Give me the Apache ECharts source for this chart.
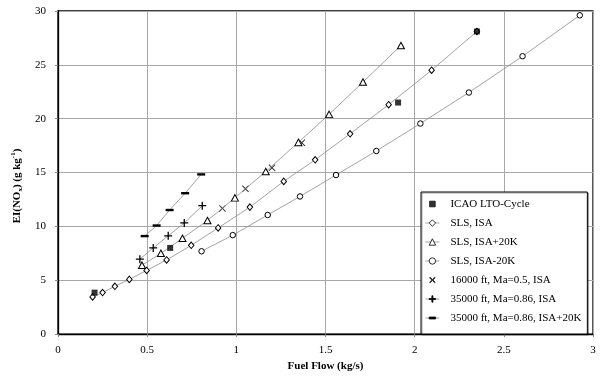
<!DOCTYPE html>
<html>
<head>
<meta charset="utf-8">
<script src="https://cdn.jsdelivr.net/npm/echarts@6/dist/echarts.min.js"></script>
<style>html,body{margin:0;padding:0;background:#fff}#c{width:600px;height:377px}</style>
</head>
<body>
<div id="c"></div>
<script>
// ---- data ----
const seriesNames = ['ICAO LTO-Cycle','SLS, ISA','SLS, ISA+20K','SLS, ISA-20K','16000 ft, Ma=0.5, ISA','35000 ft, Ma=0.86, ISA','35000 ft, Ma=0.86, ISA+20K'];
const icaoFuel = [0.205, 0.629, 1.907, 2.349];
const icaoEI   = [3.85, 8.0, 21.5, 28.1];
const slsIsaFuel = [0.194, 0.25, 0.319, 0.40, 0.497, 0.609, 0.747, 0.898, 1.076, 1.266, 1.442, 1.638, 1.854, 2.095, 2.349];
const slsIsaEI   = [3.45, 3.86, 4.44, 5.08, 5.91, 6.89, 8.24, 9.86, 11.79, 14.18, 16.18, 18.6, 21.3, 24.5, 28.1];
const slsHotFuel = [0.471, 0.577, 0.698, 0.838, 0.992, 1.165, 1.348, 1.52, 1.71, 1.923];
const slsHotEI   = [6.4, 7.5, 8.9, 10.55, 12.65, 15.1, 17.8, 20.4, 23.4, 26.8];
const slsColdFuel = [0.805, 0.98, 1.176, 1.357, 1.559, 1.785, 2.032, 2.304, 2.605, 2.926];
const slsColdEI   = [7.69, 9.19, 11.06, 12.78, 14.77, 17.0, 19.55, 22.43, 25.8, 29.6];
const alt16Fuel = [0.922, 1.051, 1.2, 1.367];
const alt16EI   = [11.67, 13.5, 15.44, 17.77];
const alt35Fuel = [0.459, 0.534, 0.618, 0.708, 0.809];
const alt35EI   = [6.96, 8.0, 9.13, 10.32, 11.92];
const alt35HotFuel = [0.486, 0.553, 0.626, 0.713, 0.803];
const alt35HotEI   = [9.1, 10.08, 11.52, 13.08, 14.83];
const xTicks = [0, 0.5, 1, 1.5, 2, 2.5, 3];
const yTicks = [0, 5, 10, 15, 20, 25, 30];

function pts(xs, ys){ return xs.map((x,i)=>[x, ys[i]]); }

const FONT = '"Liberation Serif","Times New Roman",serif';
const lineStyle = {color:'#8c8c8c', width:0.8};
const hollow = {color:'#fff', borderColor:'#000', borderWidth:1};
const solid = {color:'#000', borderWidth:0};
// invisible moveTo points pad the bounding box so legend icons stay small
const SQ_PATH = 'path://M-2,-2 M0,0 H10 V10 H0 Z M12,12';
const X_PATH = 'path://M-2,-2 M1,0 L5,4 L9,0 L10,1 L6,5 L10,9 L9,10 L5,6 L1,10 L0,9 L4,5 L0,1 Z M12,12';
const PLUS_PATH = 'path://M4.2,0 H5.8 V4.2 H10 V5.8 H5.8 V10 H4.2 V5.8 H0 V4.2 H4.2 Z';
const MINUS_PATH = 'path://M0,-3.5 M0,0 H10 V3 H0 Z M10,6.5';

const chart = echarts.init(document.getElementById('c'), null, {renderer:'canvas'});
chart.setOption({
  animation:false,
  backgroundColor:'#fff',
  textStyle:{fontFamily:FONT},
  grid:{left:58, right:7, top:11, bottom:39, show:true, borderColor:'#000', borderWidth:1.3},
  xAxis:{type:'value', min:0, max:3, interval:0.5,
    name:'Fuel Flow (kg/s)', nameLocation:'middle', nameGap:26,
    nameTextStyle:{fontFamily:FONT, fontWeight:'bold', fontSize:11, color:'#000'},
    axisLine:{lineStyle:{color:'#000', width:1.3}},
    axisTick:{show:true, length:3, inside:false, lineStyle:{color:'#888'}},
    axisLabel:{fontFamily:FONT, fontSize:11, color:'#000', margin:11,
      formatter:v=> xTicks.includes(v) ? String(v) : ''},
    splitLine:{show:true, lineStyle:{color:'#a8a8a8', width:1}}},
  yAxis:{type:'value', min:0, max:30, interval:5,
    axisLine:{show:true, lineStyle:{color:'#000', width:1.3}},
    axisTick:{show:true, length:3, lineStyle:{color:'#888'}},
    axisLabel:{fontFamily:FONT, fontSize:11, color:'#000', margin:12,
      formatter:v=> yTicks.includes(v) ? String(v) : ''},
    splitLine:{show:true, lineStyle:{color:'#a8a8a8', width:1}}},
  graphic:[{
    type:'text', x:17, y:186, rotation:Math.PI/2, z:10,
    style:{
      text:'{a|EI(NO}{s|x}{a|) (g kg}{p|-1}{a|)}',
      align:'center', verticalAlign:'middle',
      rich:{
        a:{fontFamily:FONT, fontWeight:'bold', fontSize:11, fill:'#000', lineHeight:14, verticalAlign:'middle'},
        s:{fontFamily:FONT, fontWeight:'bold', fontSize:7, fill:'#000', lineHeight:14, verticalAlign:'bottom'},
        p:{fontFamily:FONT, fontWeight:'bold', fontSize:7, fill:'#000', lineHeight:14, verticalAlign:'top'}
      }
    }
  }],
  legend:{
    orient:'vertical', left:421, top:192,
    backgroundColor:'#fff', borderColor:'#000', borderWidth:1,
    shadowColor:'rgba(0,0,0,0.35)', shadowOffsetX:1, shadowOffsetY:1, shadowBlur:0,
    padding:[6,6,10,4], itemGap:7, itemWidth:14, itemHeight:8,
    itemStyle:{borderWidth:0.8, borderColor:'#000'},
    lineStyle:{width:0.8, color:'#8c8c8c'},
    textStyle:{fontFamily:FONT, fontSize:11, color:'#000', padding:[0,0,0,6], lineHeight:12},
    data:seriesNames
  },
  series:[
    {name:seriesNames[0], type:'scatter', data:pts(icaoFuel, icaoEI), symbol:SQ_PATH, symbolSize:8.4, itemStyle:solid, z:5},
    {name:seriesNames[1], type:'line', data:pts(slsIsaFuel, slsIsaEI), symbol:'diamond', symbolSize:[5.5,6.5], showAllSymbol:true, lineStyle, itemStyle:hollow},
    {name:seriesNames[2], type:'line', data:pts(slsHotFuel, slsHotEI), symbol:'triangle', symbolSize:[7,6.5], showAllSymbol:true, lineStyle, itemStyle:hollow},
    {name:seriesNames[3], type:'line', data:pts(slsColdFuel, slsColdEI), symbol:'circle', symbolSize:5.5, showAllSymbol:true, lineStyle, itemStyle:hollow},
    {name:seriesNames[4], type:'scatter', data:pts(alt16Fuel, alt16EI), symbol:X_PATH, symbolSize:9.8, itemStyle:solid},
    {name:seriesNames[5], type:'line', data:pts(alt35Fuel, alt35EI), symbol:PLUS_PATH, symbolSize:8, showAllSymbol:true, lineStyle, itemStyle:solid},
    {name:seriesNames[6], type:'line', data:pts(alt35HotFuel, alt35HotEI), symbol:MINUS_PATH, symbolSize:8, showAllSymbol:true, lineStyle, itemStyle:solid}
  ]
});
</script>
</body>
</html>
